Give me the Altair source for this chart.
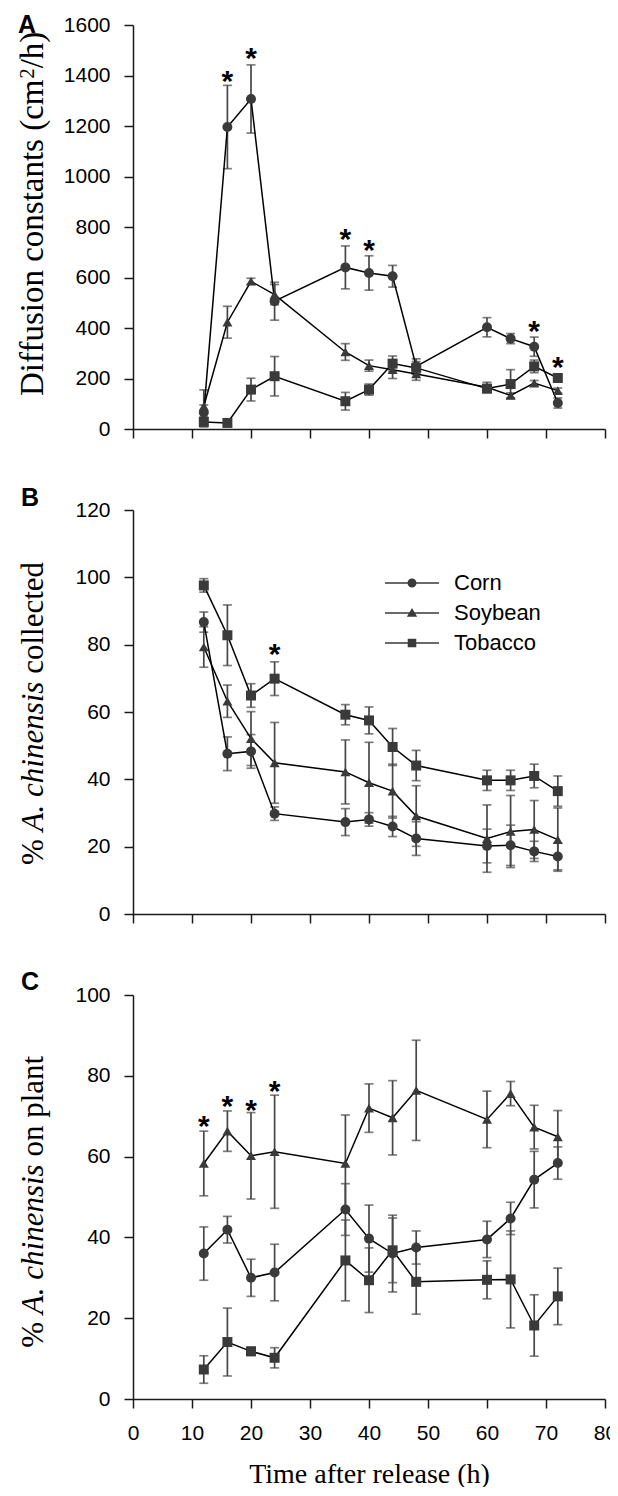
import altair as alt
import pandas as pd

# ---------------- data ----------------
times = [12, 16, 20, 24, 36, 40, 44, 48, 60, 64, 68, 72]
crops = ["Corn", "Soybean", "Tobacco"]

# Panel A: diffusion constants (cm2/h)
a_corn = [65, 1196, 1307, 506, 640, 618, 605, 248, 403, 358, 326, 103]
a_corn_err = [30, 165, 135, 75, 85, 68, 43, 30, 38, 20, 38, 20]
a_soy = [90, 423, 585, 532, 305, 251, 235, 218, 165, 133, 182, 152]
a_soy_err = [65, 63, 12, 40, 33, 22, 35, 25, 20, 10, 10, 10]
a_tob = [28, 24, 156, 209, 110, 156, 259, 242, 160, 178, 248, 202]
a_tob_err = [20, 8, 45, 78, 35, 22, 30, 25, 15, 57, 25, 10]
a_star_x = [16, 20, 36, 40, 68, 72]
a_star_y = [1397, 1489, 771, 726, 407, 264]

# Panel B: % collected
b_corn = [86.7, 47.6, 48.3, 29.8, 27.3, 28.1, 26.0, 22.4, 20.2, 20.4, 18.6, 17.1]
b_corn_err = [3, 5, 5, 2, 4, 2, 3, 5, 5, 6, 3, 4]
b_soy = [79.3, 63.2, 52.1, 44.9, 42.2, 39.0, 36.5, 29.1, 22.4, 24.5, 25.1, 22.1]
b_soy_err = [6, 4.8, 8, 12, 9.5, 12, 8, 9, 10, 10.7, 8.6, 9.4]
b_tob = [97.6, 82.8, 64.9, 69.9, 59.2, 57.5, 49.6, 44.1, 39.7, 39.7, 41.0, 36.5]
b_tob_err = [2, 9, 3.5, 5, 3, 4, 5.5, 4.5, 3, 3, 3.5, 4.5]
b_star_x = [24]
b_star_y = [78.5]

# Panel C: % on plant
c_corn = [36, 41.9, 30, 31.3, 46.9, 39.7, 36, 37.5, 39.5, 44.7, 54.3, 58.4]
c_corn_err = [6.6, 3.3, 4.6, 7, 6.4, 8.3, 9.5, 4.1, 4.5, 4, 7, 4]
c_soy = [58.3, 66.3, 60.2, 61.2, 58.3, 72, 69.6, 76.4, 69.2, 75.6, 67.3, 64.9]
c_soy_err = [8, 5, 10.7, 14, 12, 6, 9.2, 12.4, 7, 3, 5.4, 6.5]
c_tob = [7.3, 14.1, 11.8, 10.2, 34.3, 29.4, 36.8, 29, 29.5, 29.6, 18.2, 25.4]
c_tob_err = [3.4, 8.4, 1, 2.5, 10, 8, 8, 8, 4.7, 12, 7.6, 7]
c_star_x = [12, 16, 20, 24]
c_star_y = [68.6, 73.6, 72.7, 77.3]

x_ticks = [0, 10, 20, 30, 40, 50, 60, 70, 80]

# ---------------- style ----------------
W, H = 472, 404
SANS = "Liberation Sans"
SERIF = "Liberation Serif"
MARK = "#3a3a3a"
ERR = "#474747"
AXIS = "#1a1a1a"

# Times-compatible advance widths (per 1000 em) for title layout
REG = {" ": 250, "%": 833, "c": 444, "o": 500, "l": 278, "e": 444, "t": 278,
       "d": 500, "n": 500, "p": 500, "a": 444, "D": 722, "i": 278, "f": 333,
       "u": 500, "s": 389, "(": 333, ")": 333, "m": 778, "/": 278, "h": 500,
       "2": 500}
ITA = {" ": 250, "A": 611, ".": 250, "c": 444, "h": 500, "i": 278, "n": 500,
       "e": 444, "s": 389}


def tw(text, table, size):
    return sum(table[ch] for ch in text) * size / 1000.0


def long_df(means, errs):
    rows = []
    for crop, m, e in zip(crops, means, errs):
        for t, mi, ei in zip(times, m, e):
            rows.append({"time": t, "crop": crop, "mean": mi,
                         "lo": mi - ei, "hi": mi + ei})
    return pd.DataFrame(rows)


def label(text, x, y, **kw):
    return alt.Chart(pd.DataFrame({"t": [text]})).mark_text(**kw).encode(
        text="t:N", x=alt.value(x), y=alt.value(y))


def ytitle_pieces(pieces, bottom):
    """pieces: list of (text, size, italic, raise). Rotated, reading upward."""
    layers = []
    y = bottom
    for text, size, italic, rz in pieces:
        table = ITA if italic else REG
        lead = len(text) - len(text.lstrip(" "))
        y -= lead * table[" "] * size / 1000.0
        body = text.strip(" ")
        layers.append(label(body, -90 - rz, y, angle=270, align="left",
                            baseline="alphabetic", font=SERIF, fontSize=size,
                            fontStyle="italic" if italic else "normal",
                            color="black"))
        y -= tw(body, table, size)
        trail = len(text) - len(text.rstrip(" "))
        y -= trail * table[" "] * size / 1000.0
    return layers


def panel(df, sx, sy, ymax, ystep, letter, letter_xy, title_layers, xlabels,
          legend=False):
    x = alt.X("time:Q", scale=alt.Scale(domain=[0, 80], nice=False, zero=False),
              axis=alt.Axis(values=x_ticks, labels=xlabels, format="d",
                            title="Time after release (h)" if xlabels else None))
    ys = alt.Scale(domain=[0, ymax], nice=False)
    yax = alt.Axis(values=list(range(0, ymax + 1, ystep)), title=None,
                   format="d")
    base = alt.Chart(df)
    bars = base.mark_rule(color=ERR, strokeWidth=1.7).encode(
        x=x, y=alt.Y("lo:Q", scale=ys, axis=yax), y2="hi:Q")
    cap_lo = base.mark_tick(color=ERR, orient="horizontal", size=9,
                            thickness=1.7).encode(x=x, y=alt.Y("lo:Q", scale=ys))
    cap_hi = base.mark_tick(color=ERR, orient="horizontal", size=9,
                            thickness=1.7).encode(x=x, y=alt.Y("hi:Q", scale=ys))
    line = base.mark_line(color="black", strokeWidth=1.5).encode(
        x=x, y=alt.Y("mean:Q", scale=ys), detail="crop:N")
    pts = base.mark_point(filled=True, color=MARK, size=100, opacity=1).encode(
        x=x, y=alt.Y("mean:Q", scale=ys),
        shape=alt.Shape("crop:N", scale=alt.Scale(
            domain=crops, range=["circle", "triangle-up", "square"]),
            legend=None))
    stars = alt.Chart(pd.DataFrame({"time": sx, "v": sy})).mark_text(
        text="*", font=SANS, fontSize=30, fontWeight="bold",
        baseline="alphabetic", dy=14.5, color="black").encode(
        x=x, y=alt.Y("v:Q", scale=ys))
    let = label(letter, letter_xy[0], letter_xy[1], align="left",
                baseline="alphabetic", font=SANS, fontSize=25,
                fontWeight="bold", color="black")
    layers = [bars, cap_lo, cap_hi, line, pts, stars, let] + title_layers
    if legend:
        ln = "M-6,-0.17H6V0.17H-6Z"
        paths = [ln + "M-1,0A1,1,0,1,1,1,0A1,1,0,1,1,-1,0Z",
                 ln + "M0,-1.1L1.15,0.85H-1.15Z",
                 ln + "M-0.95,-0.95H0.95V0.95H-0.95Z"]
        leg = base.mark_point(filled=True, color=MARK, size=81, opacity=0).encode(
            x=x, y=alt.Y("mean:Q", scale=ys),
            shape=alt.Shape("crop:N", scale=alt.Scale(domain=crops, range=paths),
                            legend=alt.Legend(
                                orient="none", legendX=268, legendY=62,
                                title=None, labelFont=SANS, labelFontSize=22,
                                labelColor="black", labelOffset=31,
                                rowPadding=8, padding=0, symbolSize=81,
                                symbolOpacity=1, symbolFillColor=MARK,
                                symbolStrokeWidth=0)))
        layers.append(leg)
    ch = alt.layer(*layers).properties(width=W, height=H)
    if legend:
        ch = ch.resolve_scale(shape="independent")
    return ch


# titles
a_title = ytitle_pieces([("Diffusion constants (cm", 33, False, 0),
                         ("2", 21, False, 9),
                         ("/h)", 33, False, 0)], 371)
b_title = ytitle_pieces([("% ", 31, False, 0),
                         ("A. chinensis", 31, True, 0),
                         (" collected", 31, False, 0)], 355)
c_title = ytitle_pieces([("% ", 31, False, 0),
                         ("A. chinensis", 31, True, 0),
                         (" on plant", 31, False, 0)], 352.7)

pa = panel(long_df([a_corn, a_soy, a_tob], [a_corn_err, a_soy_err, a_tob_err]),
           a_star_x, a_star_y, 1600, 200, "A", (-115, 8), a_title, False)
pb = panel(long_df([b_corn, b_soy, b_tob], [b_corn_err, b_soy_err, b_tob_err]),
           b_star_x, b_star_y, 120, 20, "B", (-112, -4), b_title, False,
           legend=True)
pc = panel(long_df([c_corn, c_soy, c_tob], [c_corn_err, c_soy_err, c_tob_err]),
           c_star_x, c_star_y, 100, 20, "C", (-112, -5), c_title, True)

chart = alt.vconcat(pa, pb, pc, spacing=81, bounds="flush").properties(
    padding={"left": 8, "top": 5, "right": -7, "bottom": -1}
).configure_view(stroke=None).configure_axis(
    domainColor=AXIS, domainWidth=1.5, tickColor=AXIS, tickWidth=1.5,
    tickSize=9, labelFont=SANS, labelFontSize=21, labelColor="black",
    grid=False, labelFlush=False, labelOverlap=False, labelPadding=14,
    titleFont=SERIF, titleFontSize=28, titleFontWeight="normal",
    titleColor="black", titlePadding=17
)

chart.save("out.html", embed_options={"renderer": "svg", "actions": False})
